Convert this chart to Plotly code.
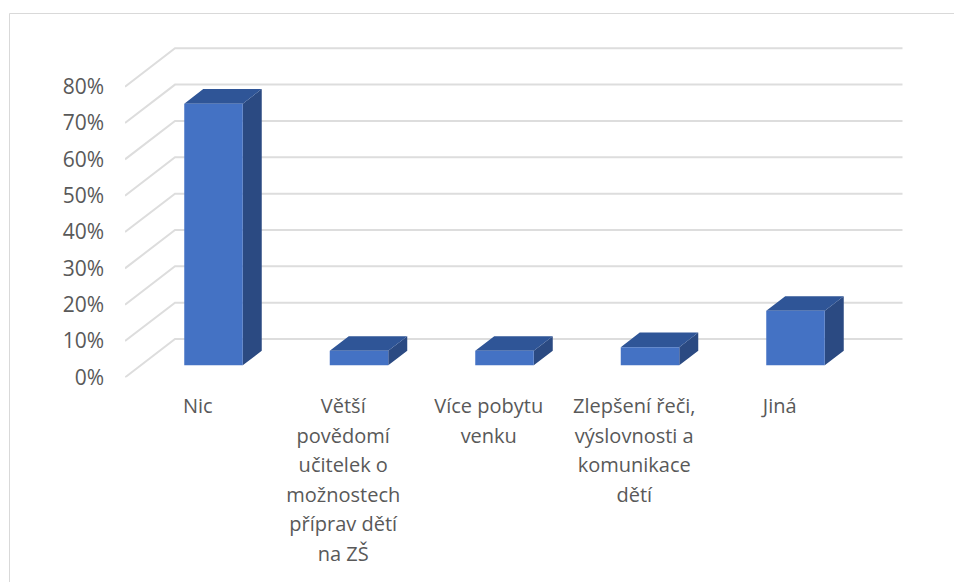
import plotly.graph_objects as go

# hodnoty
categories = [
    "Nic",
    "Větší<br>povědomí<br>učitelek o<br>možnostech<br>příprav dětí<br>na ZŠ",
    "Více pobytu<br>venku",
    "Zlepšení řeči,<br>výslovnosti a<br>komunikace<br>dětí",
    "Jiná",
]
values = [72, 4, 4, 5, 15]
y_ticks = [0, 10, 20, 30, 40, 50, 60, 70, 80]

W, H = 954, 582
PX_X = 145.5   # pixelů na kategorii
PX_Y = 3.634   # pixelů na procento
DEPTH_X = 50 / PX_X   # hloubka podlahy v jednotkách os
DEPTH_Y = 38.4 / PX_Y
BAR_FRONT = 0.315     # poloha sloupce v hloubce
BAR_BACK = 0.695
HALF = 0.201

GRID = "#DDDDDD"
TEXT = "#595959"


def pt(cat, val, depth):
    # projekce: posun do hloubky doprava a nahoru
    return cat + depth * DEPTH_X, val + depth * DEPTH_Y


def polys(corners_fn):
    xs, ys = [], []
    for i, v in enumerate(values):
        for c, val, d in corners_fn(i, v):
            x, y = pt(c, val, d)
            xs.append(x)
            ys.append(y)
        xs.append(None)
        ys.append(None)
    return xs, ys


def add_face(fig, corners_fn, color):
    xs, ys = polys(corners_fn)
    fig.add_trace(go.Scatter(x=xs, y=ys, mode="lines", fill="toself", fillcolor=color,
                             line=dict(width=0, color=color), hoverinfo="skip", showlegend=False))


fig = go.Figure()

# mřížka: zadní stěna a levá stěna
for t in y_ticks:
    x0, y0 = pt(-0.5, t, 0)
    x1, y1 = pt(-0.5, t, 1)
    x2, y2 = pt(4.5, t, 1)
    fig.add_trace(go.Scatter(x=[x0, x1, x2], y=[y0, y1, y2], mode="lines",
                             line=dict(color=GRID, width=2), hoverinfo="skip", showlegend=False))

# boční stěna sloupce
add_face(fig, lambda i, v: [(i + HALF, 0, BAR_FRONT), (i + HALF, 0, BAR_BACK),
                            (i + HALF, v, BAR_BACK), (i + HALF, v, BAR_FRONT)], "#2B4A82")
# horní stěna
add_face(fig, lambda i, v: [(i - HALF, v, BAR_FRONT), (i - HALF, v, BAR_BACK),
                            (i + HALF, v, BAR_BACK), (i + HALF, v, BAR_FRONT)], "#2F5597")
# přední stěna
add_face(fig, lambda i, v: [(i - HALF, 0, BAR_FRONT), (i - HALF, v, BAR_FRONT),
                            (i + HALF, v, BAR_FRONT), (i + HALF, 0, BAR_FRONT)], "#4472C4")

# popisky: větší font prvku kvůli řádkování, text ve spanu
tick_text = ["<br>".join(f"<span style='font-size:20px'>{s}</span>" for s in c.split("<br>"))
             for c in categories]

fig.update_layout(
    width=W,
    height=H,
    margin=dict(l=0, r=0, t=0, b=0),
    paper_bgcolor="white",
    plot_bgcolor="white",
    showlegend=False,
    font=dict(family="Open Sans, sans-serif", color=TEXT, size=20),
    xaxis=dict(
        domain=[125 / W, 903 / W],
        range=[-0.5, -0.5 + (903 - 125) / PX_X],
        tickvals=list(range(len(categories))),
        ticktext=tick_text,
        tickfont=dict(size=22.7, color=TEXT),
        tickangle=0,
        ticks="",
        ticklabelstandoff=12,
        automargin=False,
        showgrid=False,
        zeroline=False,
        showline=False,
    ),
    yaxis=dict(
        domain=[(H - 377.4) / H, (H - 40) / H],
        range=[0, (377.4 - 40) / PX_Y],
        tickvals=y_ticks,
        ticktext=[f"{t}%" for t in y_ticks],
        tickfont=dict(size=21, color=TEXT),
        ticks="",
        ticklabelstandoff=20,
        automargin=False,
        showgrid=False,
        zeroline=False,
        showline=False,
    ),
    shapes=[
        dict(type="line", xref="paper", yref="paper", x0=9.5 / W, x1=9.5 / W, y0=0, y1=(H - 13.5) / H,
             line=dict(color="#D9D9D9", width=1)),
        dict(type="line", xref="paper", yref="paper", x0=9.5 / W, x1=1, y0=(H - 13.5) / H, y1=(H - 13.5) / H,
             line=dict(color="#D9D9D9", width=1)),
    ],
)

fig.write_html("out.html", config={"displayModeBar": False},
               post_script="document.body.style.margin='0';")
